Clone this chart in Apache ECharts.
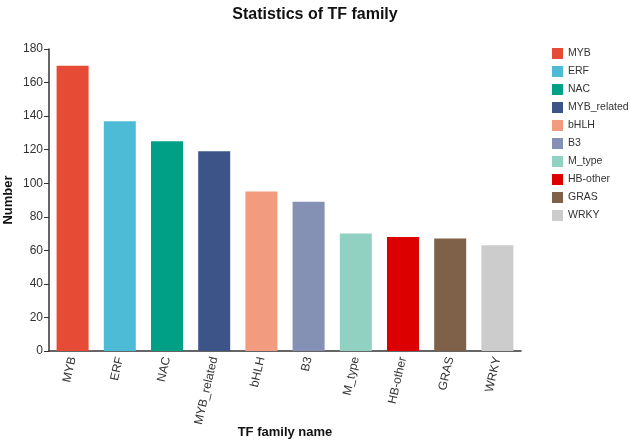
<!DOCTYPE html>
<html>
<head>
<meta charset="utf-8">
<script src="https://cdn.jsdelivr.net/npm/echarts@6/dist/echarts.min.js"></script>
<style>
  html, body { margin: 0; padding: 0; background: #fff; }
  #main { width: 630px; height: 445px; }
</style>
</head>
<body>
<div id="main"></div>
<script>
// 数据
var families = ['MYB', 'ERF', 'NAC', 'MYB_related', 'bHLH', 'B3', 'M_type', 'HB-other', 'GRAS', 'WRKY'];
var counts = [170, 137, 125, 119, 95, 89, 70, 68, 67, 63];
var colors = ['#e64b35', '#4dbbd5', '#00a087', '#3c5488', '#f39b7f', '#8491b4', '#91d1c2', '#dc0000', '#7e6148', '#cccccc'];
var yTicks = [0, 20, 40, 60, 80, 100, 120, 140, 160, 180];

var series_list = [];
for (var i = 0; i < families.length; i++) {
    var d = [];
    for (var j = 0; j < families.length; j++) {
        d.push(j == i ? counts[i] : null);
    }
    series_list.push({
        name: families[i],
        type: 'bar',
        stack: 'all',
        barWidth: 32,
        itemStyle: { color: colors[i] },
        data: d
    });
}

var myChart = echarts.init(document.getElementById('main'));
var option = {
    animation: false,
    backgroundColor: '#fff',
    title: {
        text: 'Statistics of TF family',
        left: 'center',
        top: 2,
        textStyle: { fontFamily: 'Liberation Sans', fontSize: 16, fontWeight: 'bold', color: '#111' }
    },
    legend: {
        orient: 'vertical',
        left: 552,
        top: 48,
        padding: 0,
        itemWidth: 11,
        itemHeight: 11,
        itemGap: 7,
        icon: 'rect',
        textStyle: { fontFamily: 'Liberation Sans', fontSize: 10.5, color: '#333', overflow: 'none', width: 80 },
        data: families
    },
    grid: { left: 49, right: 109, top: 49, bottom: 94, outerBoundsMode: 'none', containLabel: false },
    xAxis: {
        type: 'category',
        data: families,
        name: 'TF family name',
        nameLocation: 'middle',
        nameGap: 75,
        nameMoveOverlap: false,
        nameTextStyle: { fontFamily: 'Liberation Sans', fontSize: 13, fontWeight: 'bold', color: '#111' },
        axisLine: { lineStyle: { color: '#333', width: 1.5 } },
        axisTick: { alignWithLabel: true, length: 5, lineStyle: { color: '#333' } },
        axisLabel: { rotate: 77, fontFamily: 'Liberation Sans', fontSize: 12, color: '#333', margin: 6 }
    },
    yAxis: {
        type: 'value',
        min: 0,
        max: 180,
        interval: 20,
        name: 'Number',
        nameLocation: 'middle',
        nameGap: 34,
        nameMoveOverlap: false,
        nameTextStyle: { fontFamily: 'Liberation Sans', fontSize: 13, fontWeight: 'bold', color: '#111' },
        splitLine: { show: false },
        axisLine: { show: true, lineStyle: { color: '#333', width: 1.5 } },
        axisTick: { show: true, length: 5, lineStyle: { color: '#333' } },
        axisLabel: {
            fontFamily: 'Liberation Sans', fontSize: 12, color: '#333', margin: 6,
            formatter: function (v) { return yTicks.indexOf(v) >= 0 ? String(v) : ''; }
        }
    },
    series: series_list
};
myChart.setOption(option);
</script>
</body>
</html>
